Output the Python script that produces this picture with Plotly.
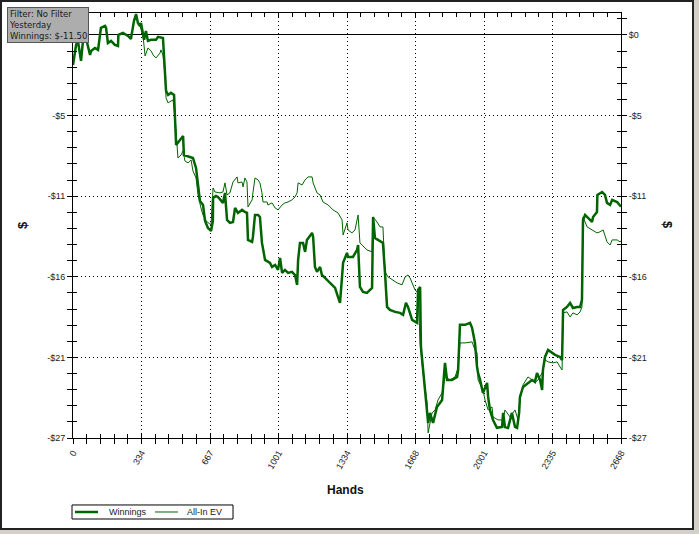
import plotly.graph_objects as go

# cumulative results, hands vs dollars
win_hands = [0, 15, 24, 39, 49, 63, 83, 88, 107, 122, 136, 156, 161, 170, 185, 204, 219, 221,
             243, 268, 282, 297, 307, 316, 326, 331, 346, 355, 365, 380, 404, 414, 438, 443,
             448, 453, 463, 477, 492, 497, 502, 521, 536, 540, 584, 599, 609, 618, 633, 643,
             657, 672, 681, 682, 696, 706, 730, 740, 750, 764, 779, 789, 803, 823, 837, 847,
             852, 872, 876, 886, 901, 910, 920, 925, 935, 959, 969, 984, 998, 1008, 1018, 1032,
             1047, 1066, 1081, 1091, 1096, 1105, 1120, 1130, 1139, 1164, 1169, 1178, 1188, 1203,
             1212, 1227, 1251, 1276, 1290, 1300, 1315, 1334, 1339, 1363, 1383, 1388, 1397, 1412,
             1431, 1446, 1456, 1461, 1470, 1485, 1505, 1509, 1519, 1529, 1543, 1568, 1592, 1607,
             1621, 1631, 1651, 1675, 1680, 1690, 1694, 1714, 1724, 1729, 1738, 1753, 1772, 1787,
             1797, 1811, 1821, 1845, 1870, 1875, 1884, 1909, 1933, 1943, 1948, 1957, 1967, 1972,
             1982, 1996, 2016, 2021, 2030, 2045, 2064, 2089, 2094, 2103, 2118, 2137, 2152, 2162,
             2172, 2176, 2191, 2215, 2235, 2249, 2259, 2274, 2284, 2288, 2298, 2313, 2332, 2347,
             2371, 2381, 2386, 2405, 2420, 2434, 2454, 2469, 2478, 2483, 2493, 2508, 2527, 2532,
             2551, 2553, 2576, 2590, 2600, 2615, 2625, 2649, 2663, 2668]
win_values = [-2.01, -0.67, -0.40, -1.74, -0.33, -0.20, -1.34, -1.07, -0.87, -1.00, 0.47, 0.60,
              0.47, -0.54, -0.40, -0.67, -0.74, 0.00, 0.13, -0.07, -0.27, 0.94, 1.40, 0.80, 0.60,
              0.80, -0.33, 0.27, -0.40, -0.33, -0.33, -0.13, -0.20, -1.54, -2.41, -3.75, -4.02,
              -3.88, -4.02, -5.56, -7.37, -7.03, -6.77, -8.04, -8.24, -8.91, -10.25, -11.12,
              -11.39, -12.46, -12.93, -13.13, -12.46, -10.92, -10.78, -10.85, -11.25, -10.58,
              -12.39, -12.59, -12.53, -11.59, -11.92, -11.72, -11.86, -11.92, -13.73, -13.86,
              -13.53, -12.06, -12.06, -12.19, -13.93, -14.40, -15.07, -15.27, -15.54, -15.41,
              -15.74, -14.94, -15.94, -15.74, -15.94, -15.87, -16.08, -16.74, -15.07, -13.93,
              -13.93, -14.53, -13.73, -13.26, -13.53, -15.54, -15.87, -15.54, -16.08, -16.28,
              -16.61, -16.95, -17.55, -17.95, -15.27, -14.60, -14.87, -14.87, -14.40, -14.07,
              -16.88, -17.21, -17.28, -17.08, -16.95, -12.19, -13.60, -13.73, -13.86, -13.93,
              -15.94, -18.22, -18.42, -18.55, -18.62, -18.75, -17.95, -18.22, -19.09, -19.29,
              -17.08, -16.88, -20.90, -23.58, -25.32, -25.99, -25.32, -25.99, -24.92, -24.65,
              -24.45, -21.97, -23.11, -23.11, -22.91, -22.44, -19.42, -19.42, -19.29, -19.62,
              -20.09, -20.63, -22.24, -22.64, -23.11, -23.98, -23.31, -24.25, -25.12, -25.79,
              -26.32, -26.26, -25.32, -26.26, -26.32, -25.32, -26.26, -26.32, -25.32, -24.25,
              -23.58, -23.31, -23.11, -23.24, -22.64, -23.11, -23.78, -22.44, -21.57, -21.10,
              -21.30, -21.43, -21.57, -21.77, -18.42, -18.22, -17.95, -18.29, -18.22, -18.22,
              -17.75, -12.39, -12.06, -12.26, -12.53, -12.19, -11.86, -10.72, -10.52, -10.72,
              -11.25, -11.39, -11.05, -11.19, -11.39, -11.50]

ev_hands = [0, 15, 24, 39, 49, 63, 83, 88, 107, 122, 136, 156, 161, 170, 185, 204, 219, 221,
            243, 268, 282, 297, 307, 316, 326, 341, 351, 365, 380, 390, 404, 424, 428, 438, 448,
            453, 463, 477, 487, 497, 511, 526, 536, 545, 560, 575, 584, 599, 609, 623, 633, 648,
            672, 682, 691, 716, 730, 740, 750, 764, 779, 799, 803, 823, 828, 837, 847, 852, 872,
            876, 886, 901, 910, 920, 925, 945, 949, 969, 984, 998, 1018, 1032, 1047, 1066, 1081,
            1091, 1096, 1115, 1130, 1144, 1164, 1169, 1188, 1203, 1217, 1242, 1266, 1290, 1310,
            1315, 1334, 1339, 1358, 1373, 1388, 1397, 1431, 1456, 1461, 1480, 1495, 1509, 1519,
            1534, 1558, 1578, 1602, 1617, 1631, 1641, 1665, 1680, 1690, 1704, 1724, 1729, 1748,
            1763, 1777, 1797, 1811, 1836, 1860, 1875, 1884, 1909, 1943, 1957, 1967, 1972, 1996,
            2006, 2021, 2040, 2045, 2069, 2094, 2103, 2128, 2152, 2167, 2176, 2191, 2215, 2235,
            2249, 2264, 2284, 2298, 2313, 2337, 2357, 2371, 2381, 2386, 2405, 2420, 2434, 2454,
            2469, 2478, 2483, 2503, 2527, 2551, 2566, 2581, 2600, 2615, 2625, 2649, 2663, 2668]
ev_values = [-2.01, -0.67, -0.40, -1.74, -0.33, -0.20, -1.34, -1.07, -0.87, -1.00, 0.47, 0.60,
             0.47, -0.54, -0.40, -0.67, -0.74, 0.00, 0.13, -0.07, -0.27, 0.94, 1.40, 0.80, 0.60,
             -0.07, -1.41, -0.87, -1.07, -1.34, -1.54, -1.21, -1.00, -1.34, -2.68, -4.22, -4.55,
             -4.42, -4.35, -5.56, -8.24, -8.04, -7.77, -8.44, -8.57, -8.37, -9.11, -9.58, -10.72,
             -11.59, -12.06, -12.46, -12.73, -10.25, -10.52, -10.58, -10.52, -9.91, -10.72,
             -10.58, -9.85, -9.51, -9.91, -9.85, -10.18, -9.58, -9.85, -11.52, -11.05, -10.58,
             -9.58, -9.71, -9.91, -10.58, -11.19, -11.19, -11.39, -11.25, -11.59, -11.72, -11.39,
             -11.25, -11.19, -11.05, -10.85, -10.58, -9.91, -10.05, -9.71, -9.51, -9.51, -9.91,
             -10.58, -10.72, -11.19, -11.39, -11.72, -11.92, -12.39, -13.40, -12.59, -13.06,
             -13.26, -13.06, -12.06, -13.93, -14.40, -14.53, -12.19, -12.53, -12.86, -12.86,
             -15.87, -16.21, -16.41, -16.61, -16.74, -16.21, -16.08, -16.28, -17.08, -17.28,
             -20.63, -22.64, -24.65, -26.66, -25.32, -25.12, -24.45, -23.98, -22.91, -23.11,
             -22.91, -22.30, -20.63, -20.63, -20.56, -21.10, -21.30, -23.11, -23.78, -24.45,
             -25.12, -24.92, -25.59, -25.79, -25.79, -25.12, -25.59, -25.12, -25.79, -24.45,
             -23.44, -22.91, -23.11, -23.31, -23.11, -22.64, -21.77, -21.90, -21.97, -21.90,
             -22.24, -22.44, -18.62, -18.55, -18.89, -18.62, -18.75, -18.55, -18.22, -12.19,
             -12.86, -13.06, -13.26, -13.19, -13.06, -13.86, -14.07, -13.73, -13.73, -13.86,
             -13.80]

x_tick_labels = ["0", "334", "667", "1001", "1334", "1668", "2001", "2335", "2668"]
y_tick_labels = ["$0", "-$5", "-$11", "-$16", "-$21", "-$27"]
# on the left the $0 label sits under the filter box
y_tick_labels_left = [""] + y_tick_labels[1:]
series_names = ["Winnings", "All-In EV"]

total_hands = 2668
y_bottom, y_top = -27.0, 1.47
GREEN = "rgb(0,100,0)"
LINE_WIDTHS = [2.5, 1]
TICK_FONT = dict(family="Liberation Sans, Arial", size=9, color="#222")
TITLE_FONT = dict(family="Liberation Sans, Arial", size=12, color="#111")

x_step = total_hands / (len(x_tick_labels) - 1)
x_ticks = [i * x_step for i in range(len(x_tick_labels))]
x_minor = [i * x_step / 5 for i in range(5 * (len(x_tick_labels) - 1) + 1)]
y_step = y_bottom / (len(y_tick_labels) - 1)
y_ticks = [i * y_step for i in range(len(y_tick_labels))]
y_minor = []
v = y_bottom
while v <= y_top:
    y_minor.append(v)
    v += abs(y_step) / 5

fig = go.Figure()
fig.add_trace(go.Scatter(x=win_hands, y=win_values, mode="lines", name=series_names[0],
                         line=dict(color=GREEN, width=LINE_WIDTHS[0])))
fig.add_trace(go.Scatter(x=ev_hands, y=ev_values, mode="lines", name=series_names[1],
                         line=dict(color=GREEN, width=LINE_WIDTHS[1])))

grid = dict(showgrid=True, gridcolor="black", gridwidth=1, griddash="1px,3px")
plain = dict(range=[0, total_hands], tickmode="array", tickvals=x_ticks, automargin=False,
             showline=True, linecolor="black", linewidth=1, tickcolor="black")
yplain = dict(range=[y_bottom, y_top], tickmode="array", tickvals=y_ticks, automargin=False,
              showline=True, linecolor="black", linewidth=1, tickcolor="black")

fig.update_layout(
    width=699, height=534,
    margin=dict(l=73, r=78, t=13, b=96),
    paper_bgcolor="#d4d0c8",
    plot_bgcolor="rgba(0,0,0,0)",
    showlegend=False,
    xaxis=dict(**plain, **grid, ticktext=x_tick_labels, ticks="outside", ticklen=5,
               tickangle=-60, tickfont=TICK_FONT, zeroline=False,
               minor=dict(tickvals=x_minor, ticks="outside", ticklen=5, tickcolor="black")),
    xaxis2=dict(**plain, overlaying="x", side="top", anchor="y", ticks="inside", ticklen=4,
                mirror="ticks", showticklabels=False, showgrid=False, zeroline=False,
                minor=dict(tickvals=x_minor, ticks="inside", ticklen=4, tickcolor="black")),
    yaxis=dict(**yplain, **grid, ticktext=y_tick_labels_left, ticks="outside", ticklen=5,
               tickfont=TICK_FONT, zeroline=True, zerolinecolor="black", zerolinewidth=1,
               minor=dict(tickvals=y_minor, ticks="outside", ticklen=5, tickcolor="black")),
    yaxis2=dict(**yplain, ticktext=y_tick_labels, overlaying="y", side="right", anchor="x",
                ticks="outside", ticklen=5, tickfont=TICK_FONT, showgrid=False, zeroline=False,
                minor=dict(tickvals=y_minor, ticks="outside", ticklen=5, tickcolor="black")),
    yaxis3=dict(**yplain, overlaying="y", side="left", anchor="x", ticks="inside", ticklen=4,
                mirror="ticks", showticklabels=False, showgrid=False, zeroline=False,
                minor=dict(tickvals=y_minor, ticks="inside", ticklen=4, tickcolor="black")),
)

# dummy traces so the overlay axes render
fig.add_trace(go.Scatter(x=[None], y=[None], xaxis="x2", yaxis="y", showlegend=False))
fig.add_trace(go.Scatter(x=[None], y=[None], xaxis="x", yaxis="y2", showlegend=False))
fig.add_trace(go.Scatter(x=[None], y=[None], xaxis="x", yaxis="y3", showlegend=False))

# window frame
fig.add_shape(type="rect", xref="paper", yref="paper", x0=-0.1314, x1=1.1314,
              y0=-0.2141, y1=1.0282, fillcolor="white",
              line=dict(color="#222", width=2), layer="below")

# compact legend strip below the chart (plotly's own legend is too tall here)
fig.add_shape(type="rect", xref="paper", yref="paper", x0=-0.0018, x1=0.2920,
              y0=-0.1906, y1=-0.1576, fillcolor="white", line=dict(color="black", width=1))
legend_slots = [(0.0037, 0.0456, 0.0620), (0.1496, 0.1916, 0.2044)]
for name, width, (lx0, lx1, tx) in zip(series_names, LINE_WIDTHS, legend_slots):
    fig.add_shape(type="line", xref="paper", yref="paper", x0=lx0, x1=lx1,
                  y0=-0.1741, y1=-0.1741, line=dict(color=GREEN, width=width))
    fig.add_annotation(xref="paper", yref="paper", x=tx, y=-0.1741, xanchor="left",
                       yanchor="middle", text=name, showarrow=False,
                       font=dict(family="Liberation Sans, Arial", size=9, color="#222"))

fig.add_annotation(xref="paper", yref="paper", x=0.498, y=-0.1224, xanchor="center",
                   yanchor="middle", text="<b>Hands</b>", showarrow=False, font=TITLE_FONT)
for ax_x, angle in [(-0.0931, -90), (1.0858, 90)]:
    fig.add_annotation(xref="paper", yref="paper", x=ax_x, y=0.501, xanchor="center",
                       yanchor="middle", text="<b>$</b>", textangle=angle, showarrow=False,
                       font=dict(family="Liberation Sans, Arial", size=13, color="#111"))
fig.add_annotation(xref="paper", yref="paper", x=-0.1204, y=1.0141, xanchor="left", yanchor="top",
                   align="left", showarrow=False,
                   text="Filter: No Filter<br>Yesterday<br>Winnings: $-11.50",
                   font=dict(family="DejaVu Sans", size=8.5, color="#1a1a1a"),
                   bgcolor="#adadad", bordercolor="#555", borderwidth=1, borderpad=1)

# the page's default body margin would push the figure off by a few pixels
fig.write_html("out.html", config={"displayModeBar": False},
               post_script="document.body.style.margin='0px';")
